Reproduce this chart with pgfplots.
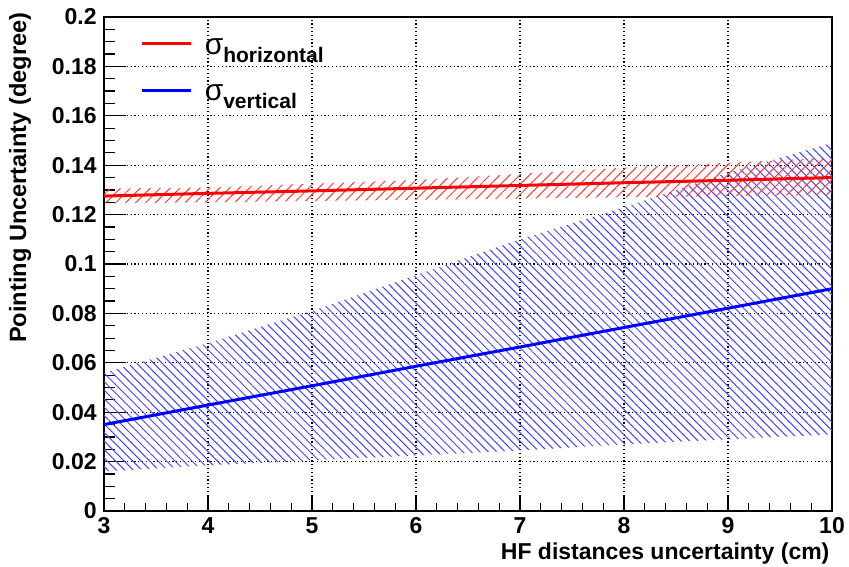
\documentclass[border=0pt]{standalone}
\usepackage{fontspec}
\setmainfont{Liberation Sans}
\usepackage{pgfplots}
\pgfplotsset{compat=1.18}
\usetikzlibrary{patterns.meta}

\definecolor{rootred}{RGB}{255,0,0}
\definecolor{rootblue}{RGB}{0,0,255}
\definecolor{hatchblue}{RGB}{70,70,255}
\definecolor{hatchred}{RGB}{255,60,60}

\begin{document}
\begin{tikzpicture}
\begin{axis}[
  scale only axis,
  width=364bp, height=247bp,
  xmin=3, xmax=10, ymin=0, ymax=0.2,
  xtick={3,4,5,6,7,8,9,10},
  ytick={0,0.02,0.04,0.06,0.08,0.1,0.12,0.14,0.16,0.18,0.2},
  yticklabels={0,0.02,0.04,0.06,0.08,0.1,0.12,0.14,0.16,0.18,0.2},
  minor x tick num=4, minor y tick num=3,
  tick align=inside, xtick pos=bottom, ytick pos=left,
  major tick length=9bp, minor tick length=5bp,
  xtick style={/pgfplots/major tick length=7.5bp, /pgfplots/minor tick length=4bp, black, line width=0.6bp},
  ytick style={/pgfplots/major tick length=11bp, /pgfplots/minor tick length=5.5bp, black, line width=0.6bp},
  axis line style={black, line width=0.8bp},
  grid=major,
  major grid style={black, line width=0.55bp, dash pattern=on 0.6bp off 1.3bp},
  /pgf/number format/assume math mode=true,
  ticklabel style={font=\fontsize{11.5bp}{12bp}\selectfont\bfseries},
  yticklabel style={inner sep=0pt, xshift=-3.5bp},
  xticklabel style={inner sep=0pt, yshift=-3bp},
  every axis x label/.style={at={(axis description cs:0.997,-0.099)}, anchor=base east, inner sep=0pt, font=\fontsize{11.5bp}{12bp}\selectfont\bfseries},
  every axis y label/.style={at={(axis description cs:-0.1154,1.01)}, rotate=90, anchor=east, inner sep=0pt, font=\fontsize{11.8bp}{12bp}\selectfont\bfseries},
  xlabel={HF distances uncertainty (cm)},
  ylabel={Pointing Uncertainty (degree)},
  legend style={draw=none, fill=none, at={(axis description cs:0.05,0.962)}, anchor=north west, inner sep=0pt, row sep=12bp,
    column sep=5bp, nodes={inner sep=1bp}},
  legend cell align=left,
  legend image code/.code={\draw[#1] (0bp,2bp) -- (24.5bp,2bp);},
]
% blue band (sigma vertical uncertainty)
\addplot[draw=none, forget plot, pattern={Lines[angle=-45, distance=3bp, line width=0.5bp]}, pattern color=hatchblue]
  coordinates {(3,0.056) (4,0.068) (5,0.081) (6,0.0955) (7,0.110) (8,0.123) (9,0.137) (10,0.149)
               (10,0.031) (9,0.029) (8,0.027) (7,0.0245) (6,0.0225) (5,0.0205) (4,0.0185) (3,0.016)} -- cycle;
% red band (sigma horizontal uncertainty)
\addplot[draw=none, forget plot, pattern={Lines[angle=45, distance=3.5bp, line width=0.5bp]}, pattern color=hatchred]
  coordinates {(3,0.1305) (4,0.131) (5,0.1325) (6,0.134) (7,0.1365) (8,0.139) (9,0.141) (10,0.143)
               (10,0.128) (9,0.1275) (8,0.127) (7,0.1265) (6,0.126) (5,0.1255) (4,0.125) (3,0.1245)} -- cycle;
% lines
\addplot[rootred, line width=1.5bp] coordinates {(3,0.1275) (4,0.1286) (5,0.1296) (6,0.1307) (7,0.1318) (8,0.1329) (9,0.1339) (10,0.135)};
\addlegendentry{{\fontsize{15bp}{15bp}\selectfont σ}\raisebox{-4bp}{\fontsize{10.5bp}{10.5bp}\selectfont\bfseries horizontal}}
\addplot[rootblue, line width=1.5bp] coordinates {(3,0.035) (4,0.0429) (5,0.0507) (6,0.0586) (7,0.0664) (8,0.0743) (9,0.0821) (10,0.090)};
\addlegendentry{{\fontsize{15bp}{15bp}\selectfont σ}\raisebox{-4bp}{\fontsize{10.5bp}{10.5bp}\selectfont\bfseries vertical}}
\coordinate (SW) at (rel axis cs:0,0);
\coordinate (NE) at (rel axis cs:1,1);
\end{axis}
\pgfresetboundingbox
\path[use as bounding box] ([shift={(-52bp,-27.5bp)}]SW) rectangle ([shift={(8.5bp,8.5bp)}]NE);
\end{tikzpicture}
\end{document}
